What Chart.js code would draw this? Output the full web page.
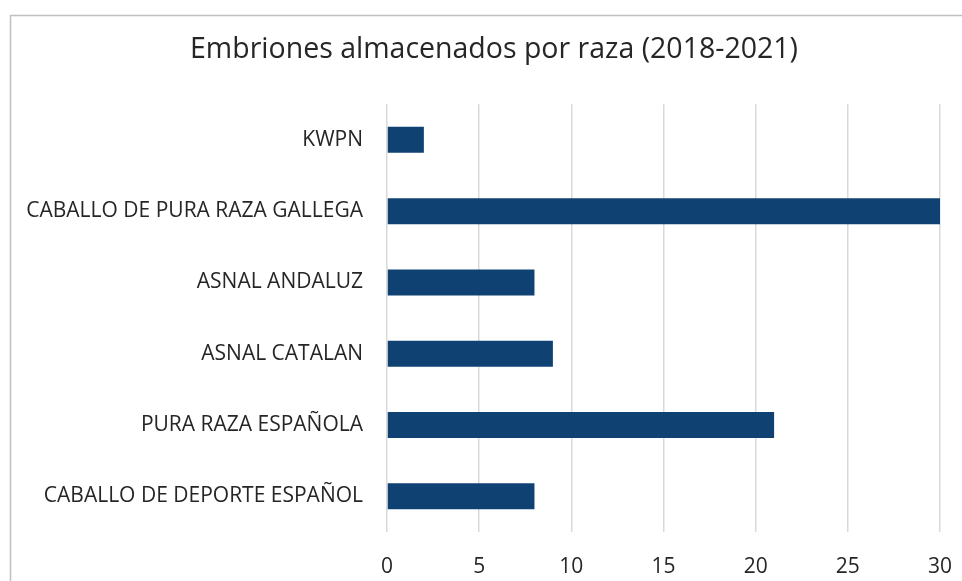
<!DOCTYPE html>
<html>
<head>
<meta charset="utf-8">
<script src="https://cdn.jsdelivr.net/npm/chart.js@4.4.1/dist/chart.umd.min.js"></script>
<style>
  html, body { margin: 0; padding: 0; background: #ffffff; overflow: hidden; }
  #wrap { position: absolute; left: 0; top: 0; width: 988px; height: 581px; }
</style>
</head>
<body>
<div id="wrap"><canvas id="c"></canvas></div>
<script>
const chartTitle = 'Embriones almacenados por raza (2018-2021)';
const categories = [
  'KWPN',
  'CABALLO DE PURA RAZA GALLEGA',
  'ASNAL ANDALUZ',
  'ASNAL CATALAN',
  'PURA RAZA ESPAÑOLA',
  'CABALLO DE DEPORTE ESPAÑOL'
];
const values = [2, 30, 8, 9, 21, 8];
const xTicks = [0, 5, 10, 15, 20, 25, 30];

const borderPlugin = {
  id: 'outerBorder',
  afterLayout(chart) {
    const t = chart.titleBlock;
    if (t) { t.left = 48; t.right = chart.chartArea.right; t.width = t.right - t.left; }
  },
  afterDraw(chart) {
    const ctx = chart.ctx;
    ctx.save();
    ctx.strokeStyle = '#bfbfbf';
    ctx.lineWidth = 1.5;
    ctx.beginPath();
    ctx.moveTo(10.5, chart.height + 5);
    ctx.lineTo(10.5, 15.5);
    ctx.lineTo(chart.width + 5, 15.5);
    ctx.stroke();
    ctx.restore();
  }
};

new Chart(document.getElementById('c'), {
  type: 'bar',
  data: {
    labels: categories,
    datasets: [{
      data: values,
      backgroundColor: '#0f4273',
      categoryPercentage: 1.0,
      barPercentage: 0.365
    }]
  },
  options: {
    indexAxis: 'y',
    responsive: true,
    maintainAspectRatio: false,
    animation: false,
    layout: { padding: { left: 0, right: 48, top: 0, bottom: 1 } },
    plugins: {
      legend: { display: false },
      tooltip: { enabled: false },
      title: {
        display: true,
        text: chartTitle,
        color: '#262626',
        font: { family: 'Open Sans', size: 28.5, weight: 'normal' },
        padding: { top: 33, bottom: 37 }
      }
    },
    scales: {
      x: {
        type: 'linear',
        min: 0,
        max: 30,
        afterBuildTicks(scale) { scale.ticks = xTicks.map(v => ({ value: v })); },
        afterFit(scale) { scale.height = 48; },
        grid: { color: '#d9d9d9', lineWidth: 1.5, drawTicks: false },
        border: { display: false },
        ticks: {
          color: '#262626',
          font: { family: 'Open Sans', size: 21 },
          padding: 22
        }
      },
      y: {
        grid: { display: false, drawTicks: false },
        border: { display: false },
        afterFit(scale) { scale.width = 387; },
        ticks: {
          color: '#262626',
          font: { family: 'Open Sans', size: 21 },
          padding: 24
        }
      }
    }
  },
  plugins: [borderPlugin]
});
</script>
</body>
</html>
